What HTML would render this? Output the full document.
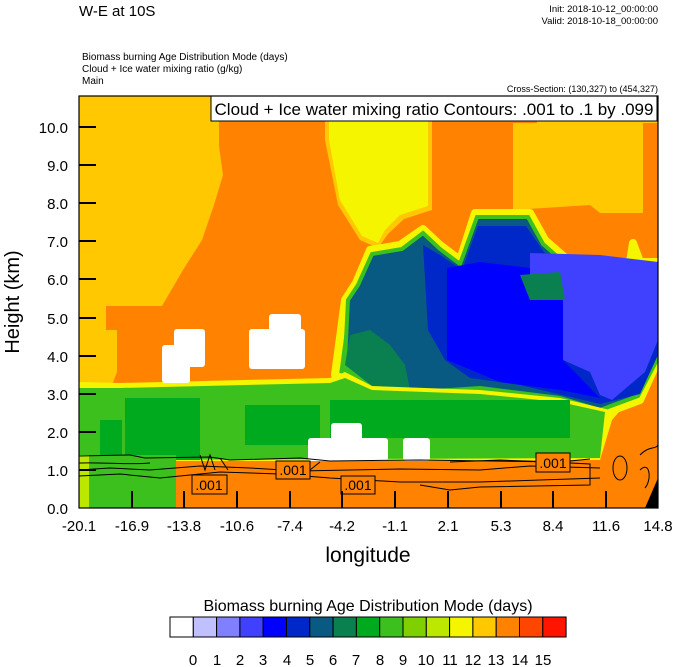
<!DOCTYPE html>
<html><head><meta charset="utf-8"><style>
body{margin:0;background:#fff;}
svg{display:block;font-family:"Liberation Sans",sans-serif;}
</style></head><body>
<svg width="674" height="667" viewBox="0 0 674 667" xmlns="http://www.w3.org/2000/svg">
<defs><clipPath id="pc"><rect x="79" y="96" width="579" height="412"/></clipPath></defs>
<g clip-path="url(#pc)">
<rect x="79" y="96" width="579" height="412" fill="#ff8200"/>
<polygon fill="#ffc800" points="79,96 219,96 219,146 223,175 214,205 202,240 183,270 162,306 106,306 106,330 117,330 117,372 112,385 79,385"/>
<polygon fill="#ffc800" points="513,123 537,123 537,96 658,96 658,123 643,123 643,213 600,213 590,205 513,210"/>
<polygon fill="#ffc800" points="325,121 432,121 432,210 404,219 388,234 378,248 360,240 338,205 325,140"/>
<polygon fill="#f5f500" points="329,121 428,121 428,206 400,215 385,230 378,243 362,236 340,200 329,140"/>
<polygon fill="#3cc01e" stroke="#f5f500" stroke-width="8" stroke-linejoin="round" points="356,283 370,250 400,245 423,229 440,245 460,260 475,213 530,213 545,240 570,262 630,262 633,243 640,262 658,262 658,360 640,400 600,415 560,405 480,395 420,398 370,392 335,375 345,300"/>
<polygon fill="#085a82" stroke="#3cc01e" stroke-width="4" points="358,285 372,254 402,249 423,233 440,249 460,264 477,217 528,217 543,244 568,266 658,266 658,358 638,396 600,410 560,398 480,388 420,392 372,386 345,360 348,300"/>
<polygon fill="#0a8050" points="350,335 370,330 390,345 405,365 410,390 372,386 345,365"/>
<polygon fill="#0028c8" points="423,245 440,255 462,270 478,226 526,226 544,252 568,272 658,272 658,355 640,394 600,404 520,385 470,378 445,360 428,330"/>
<polygon fill="#0000ff" points="447,268 480,262 530,268 563,293 563,360 600,398 560,390 500,382 447,360"/>
<polygon fill="#4040ff" points="530,253 600,255 658,262 658,340 645,372 612,400 600,395 590,372 563,360 563,293 530,290"/>
<polygon fill="#0a8050" points="520,275 560,272 565,300 530,300"/>
<polygon fill="#f5f500" points="79,382 120,383 330,378 345,372 372,386 480,390 560,398 610,410 625,405 612,420 600,460 79,462"/>
<polygon fill="#3cc01e" points="79,388 120,388 330,383 345,378 372,390 480,394 560,402 605,412 600,458 79,460"/>
<rect x="125" y="398" width="75" height="62" fill="#00aa1e"/>
<rect x="100" y="420" width="22" height="35" fill="#00aa1e"/>
<rect x="245" y="405" width="75" height="40" fill="#00aa1e"/>
<rect x="330" y="400" width="240" height="38" fill="#00aa1e"/>
<rect x="79" y="455" width="97" height="53" fill="#3cc01e"/>
<rect x="79" y="455" width="10" height="53" fill="#bce800"/>
<polygon fill="#ff8200" points="176,461 600,461 640,455 658,440 658,508 176,508"/>
<rect x="174" y="329" width="31" height="20" fill="#fff" rx="3"/>
<rect x="162" y="345" width="43" height="22" fill="#fff" rx="3"/>
<rect x="162" y="360" width="28" height="23" fill="#fff" rx="3"/>
<rect x="269" y="314" width="32" height="20" fill="#fff" rx="3"/>
<rect x="249" y="329" width="56" height="40" fill="#fff" rx="3"/>
<rect x="331" y="423" width="31" height="20" fill="#fff" rx="3"/>
<rect x="308" y="438" width="80" height="23" fill="#fff" rx="3"/>
<rect x="403" y="438" width="27" height="23" fill="#fff" rx="3"/>
<polygon fill="#000" points="658,478 658,508 645,508"/>
<g fill="none" stroke="#000" stroke-width="1">
<path d="M79,456 L130,455 L145,458 L210,457 L230,460 L300,458 L330,461 L420,460 L560,462 L590,459"/>
<path d="M79,470 L110,468 L150,470 L200,466 L250,468 L300,471 L400,469 L480,470 L530,466 L600,468"/>
<path d="M79,476 L120,474 L160,478 L220,472 L280,474 L330,478 L400,482 L480,482 L540,480 L600,478"/>
<path d="M79,463 C100,462 130,465 150,463 M200,455 L205,470 L210,455 L215,470 M220,458 L228,470 M300,462 L310,470 L320,462"/>
<path d="M450,462 L500,460 L550,462 L590,464 L590,485 L480,487 L450,490 L420,485"/>
<ellipse cx="620" cy="468" rx="7" ry="12"/>
<path d="M640,455 C650,445 655,450 658,445 M640,470 C650,460 652,480 645,488"/>
</g>
<g font-size="14" text-anchor="middle">
<rect x="192" y="475" width="35" height="19" fill="#ff8200" stroke="#000"/><text x="209" y="490">.001</text>
<rect x="276" y="461" width="34" height="18" fill="#ff8200" stroke="#000"/><text x="293" y="475">.001</text>
<rect x="341" y="476" width="34" height="18" fill="#ff8200" stroke="#000"/><text x="358" y="490">.001</text>
<rect x="536" y="453" width="34" height="19" fill="#ff8200" stroke="#000"/><text x="553" y="468">.001</text>
</g>
</g>
<rect x="211" y="96" width="446" height="25" fill="#fff" stroke="#000"/>
<text x="434" y="115" font-size="17" text-anchor="middle">Cloud + Ice water mixing ratio Contours: .001 to .1 by .099</text>
<rect x="79" y="96" width="579" height="412" fill="none" stroke="#000" stroke-width="1.2"/>
<g stroke="#000" stroke-width="2">
<line x1="79" y1="127" x2="96" y2="127"/><line x1="79" y1="165" x2="96" y2="165"/><line x1="79" y1="203" x2="96" y2="203"/><line x1="79" y1="241" x2="96" y2="241"/><line x1="79" y1="279" x2="96" y2="279"/><line x1="79" y1="318" x2="96" y2="318"/><line x1="79" y1="356" x2="96" y2="356"/><line x1="79" y1="394" x2="96" y2="394"/><line x1="79" y1="432" x2="96" y2="432"/><line x1="79" y1="470" x2="96" y2="470"/>
<line x1="132" y1="491" x2="132" y2="508"/><line x1="184" y1="491" x2="184" y2="508"/><line x1="237" y1="491" x2="237" y2="508"/><line x1="290" y1="491" x2="290" y2="508"/><line x1="342" y1="491" x2="342" y2="508"/><line x1="395" y1="491" x2="395" y2="508"/><line x1="448" y1="491" x2="448" y2="508"/><line x1="501" y1="491" x2="501" y2="508"/><line x1="553" y1="491" x2="553" y2="508"/><line x1="606" y1="491" x2="606" y2="508"/>
</g>
<g font-size="15" text-anchor="end">
<text x="68" y="133">10.0</text><text x="68" y="171">9.0</text><text x="68" y="209">8.0</text><text x="68" y="247">7.0</text><text x="68" y="285">6.0</text><text x="68" y="324">5.0</text><text x="68" y="362">4.0</text><text x="68" y="400">3.0</text><text x="68" y="438">2.0</text><text x="68" y="476">1.0</text><text x="68" y="514">0.0</text>
</g>
<g font-size="15" text-anchor="middle">
<text x="79" y="531">-20.1</text><text x="132" y="531">-16.9</text><text x="184" y="531">-13.8</text><text x="237" y="531">-10.6</text><text x="290" y="531">-7.4</text><text x="342" y="531">-4.2</text><text x="395" y="531">-1.1</text><text x="448" y="531">2.1</text><text x="501" y="531">5.3</text><text x="553" y="531">8.4</text><text x="606" y="531">11.6</text><text x="658" y="531">14.8</text>
</g>
<text x="368" y="562" font-size="21" text-anchor="middle">longitude</text>
<text transform="translate(19,302) rotate(-90)" font-size="20" text-anchor="middle">Height (km)</text>
<text x="79" y="16" font-size="15">W-E at 10S</text>
<text x="658" y="12" font-size="9.5" text-anchor="end">Init: 2018-10-12_00:00:00</text>
<text x="658" y="24" font-size="9.5" text-anchor="end">Valid: 2018-10-18_00:00:00</text>
<text x="82" y="60" font-size="10">Biomass burning Age Distribution Mode    (days)</text>
<text x="82" y="72" font-size="10">Cloud + Ice water mixing ratio    (g/kg)</text>
<text x="82" y="84" font-size="10">Main</text>
<text x="658" y="92" font-size="9" text-anchor="end">Cross-Section: (130,327) to (454,327)</text>
<text x="368" y="611" font-size="16" text-anchor="middle">Biomass burning Age Distribution Mode  (days)</text>
<g stroke="#000" stroke-width="1">
<rect x="170" y="617" width="23.3" height="20" fill="#ffffff"/>
<rect x="193.3" y="617" width="23.3" height="20" fill="#c0c0ff"/>
<rect x="216.6" y="617" width="23.3" height="20" fill="#8080ff"/>
<rect x="239.9" y="617" width="23.3" height="20" fill="#4040ff"/>
<rect x="263.2" y="617" width="23.3" height="20" fill="#0000ff"/>
<rect x="286.5" y="617" width="23.3" height="20" fill="#0028c8"/>
<rect x="309.8" y="617" width="23.3" height="20" fill="#085a82"/>
<rect x="333.1" y="617" width="23.3" height="20" fill="#0a8050"/>
<rect x="356.4" y="617" width="23.3" height="20" fill="#00aa1e"/>
<rect x="379.7" y="617" width="23.3" height="20" fill="#3cc01e"/>
<rect x="403" y="617" width="23.3" height="20" fill="#80d000"/>
<rect x="426.3" y="617" width="23.3" height="20" fill="#bce800"/>
<rect x="449.6" y="617" width="23.3" height="20" fill="#f5f500"/>
<rect x="472.9" y="617" width="23.3" height="20" fill="#ffc800"/>
<rect x="496.2" y="617" width="23.3" height="20" fill="#ff8200"/>
<rect x="519.5" y="617" width="23.3" height="20" fill="#ff4600"/>
<rect x="542.8" y="617" width="23.3" height="20" fill="#ff1400"/>
</g>
<g font-size="15" text-anchor="middle">
<text x="193" y="665">0</text><text x="217" y="665">1</text><text x="240" y="665">2</text><text x="263" y="665">3</text><text x="287" y="665">4</text><text x="310" y="665">5</text><text x="333" y="665">6</text><text x="356" y="665">7</text><text x="380" y="665">8</text><text x="403" y="665">9</text><text x="426" y="665">10</text><text x="450" y="665">11</text><text x="473" y="665">12</text><text x="496" y="665">13</text><text x="520" y="665">14</text><text x="543" y="665">15</text>
</g>
</svg>
</body></html>
